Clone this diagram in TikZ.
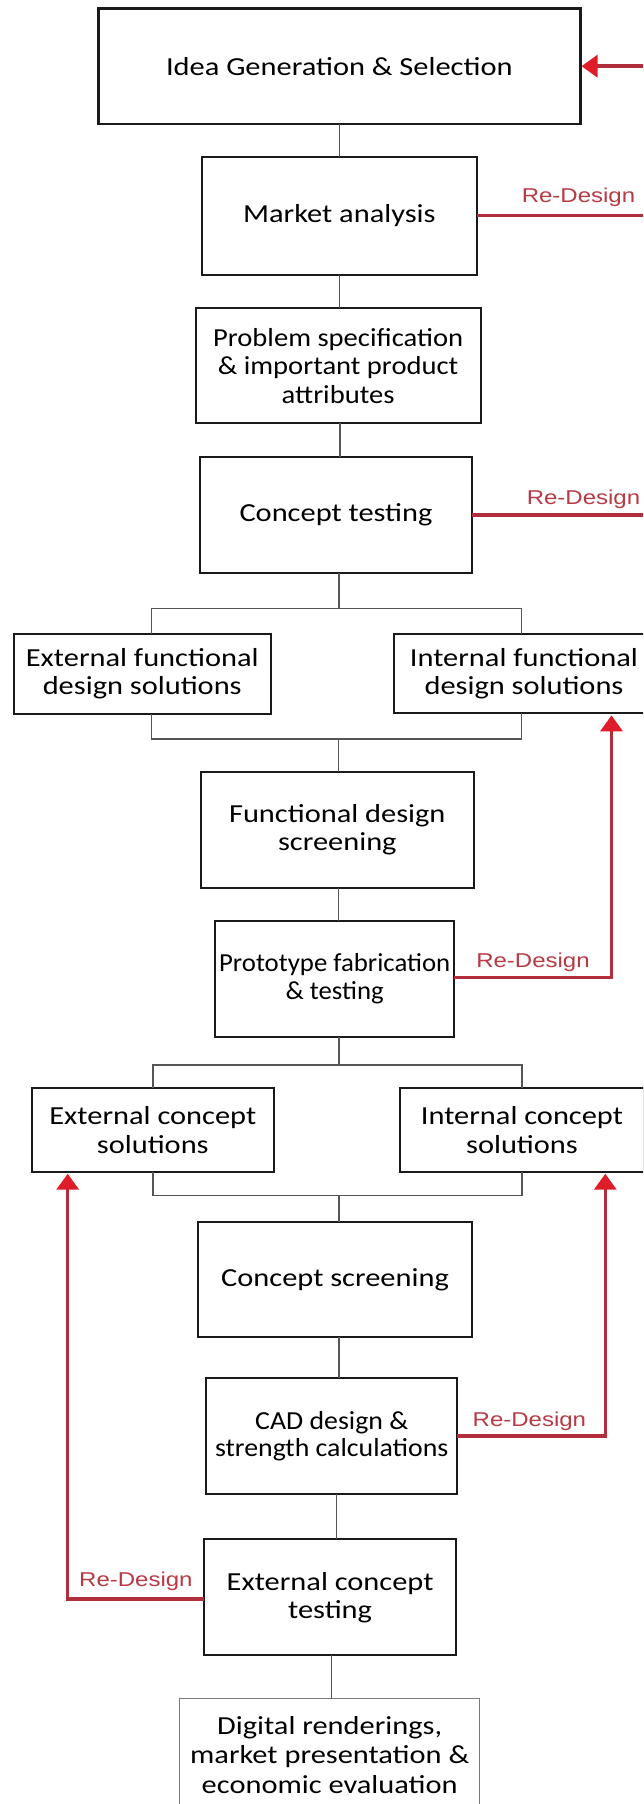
\documentclass[tikz,border=0pt]{standalone}
\usepackage{fontspec}
\usetikzlibrary{arrows.meta}

% box text: Carlito, slightly widened; a few boxes use narrower variants
\newfontfamily\bxA[FakeStretch=1.17]{Carlito}
\newfontfamily\bxB[FakeStretch=1.10]{Carlito}
\newfontfamily\bxC[FakeStretch=1.07]{Carlito}
\newfontfamily\bxD[FakeStretch=1.03]{Carlito}
\newfontfamily\lbfont[FakeStretch=1.2]{Liberation Sans}

\definecolor{boxline}{HTML}{1A1A1A}
\definecolor{linkgray}{HTML}{555555}
\definecolor{softgray}{HTML}{7A7A7A}
\definecolor{fbred}{HTML}{B32E3C}
\definecolor{fbtext}{HTML}{B83A45}
\definecolor{tipred}{HTML}{DE1C2A}

\begin{document}
\begin{tikzpicture}[x=1pt,y=-1pt,
  box/.style={draw=boxline, line width=2pt, align=center, inner sep=0pt,
    outer sep=0pt, text=black, font=\bxA\fontsize{26}{28}\selectfont},
  link/.style={draw=linkgray, line width=1.4pt},
  fbline/.style={draw=fbred, line width=3.5pt},
  fb/.style={fbline, shorten >=2pt,
    -{Triangle[length=16pt,width=22pt,color=tipred,fill=tipred]}},
  fblabel/.style={text=fbtext, inner sep=0pt,
    font=\lbfont\fontsize{20}{22}\selectfont}]

\useasboundingbox (0,0) rectangle (643,1804);
\fill[white] (0,0) rectangle (643,1804);
\clip (0,0) rectangle (643,1804);

% ---- process boxes ----
\node[box, line width=2.8pt, minimum width=481.8pt, minimum height=115.7pt] (idea) at (339.3,66.2) {Idea Generation \& Selection};
\node[box, minimum width=274.3pt, minimum height=118pt] (market) at (339.35,215.7) {Market analysis};
\node[box, font=\bxB\fontsize{26}{28.3}\selectfont, minimum width=285pt, minimum height=115pt] (spec) at (338.1,365.8) {Problem specification\\\& important product\\attributes};
\node[box, minimum width=272.7pt, minimum height=115.4pt] (ctest) at (336,515) {Concept testing};
\node[box, font=\bxA\fontsize{26}{27.7}\selectfont, minimum width=257.5pt, minimum height=80pt] (extf) at (142.25,674) {External functional\\design solutions};
\node[box, font=\bxA\fontsize{26}{27.7}\selectfont, minimum width=260pt, minimum height=79.3pt] (intf) at (524,673.7) {Internal functional\\design solutions};
\node[box, minimum width=272.6pt, minimum height=116pt] (fscreen) at (337.3,829.7) {Functional design\\screening};
\node[box, font=\bxD\fontsize{26}{28.3}\selectfont, minimum width=239.5pt, minimum height=116pt] (proto) at (334.65,978.7) {Prototype fabrication\\\& testing};
\node[box, font=\bxA\fontsize{26}{29}\selectfont, minimum width=242.4pt, minimum height=83.4pt] (extc) at (152.8,1130) {External concept\\solutions};
\node[box, font=\bxA\fontsize{26}{29}\selectfont, minimum width=244pt, minimum height=83.4pt] (intc) at (522,1130) {Internal concept\\solutions};
\node[box, minimum width=273.1pt, minimum height=115.6pt] (cscreen) at (335,1279.5) {Concept screening};
\node[box, font=\bxC\fontsize{26}{27.6}\selectfont, minimum width=250.9pt, minimum height=115.7pt] (cad) at (331.75,1436.2) {CAD design \&\\strength calculations};
\node[box, font=\bxA\fontsize{26}{28}\selectfont, minimum width=251.8pt, minimum height=115.7pt] (ectest) at (330.1,1597.2) {External concept\\testing};
\node[box, draw=softgray, line width=1.1pt, font=\bxA\fontsize{26}{29.7}\selectfont, minimum width=300.2pt, minimum height=113pt] (digital) at (329.7,1755) {Digital renderings,\\market presentation \&\\economic evaluation};

% ---- bus junctions ----
\coordinate (b1l) at (151.7,608.3);
\coordinate (b1r) at (521.2,608.3);
\coordinate (j1)  at (339,608.3);
\coordinate (b2l) at (151.7,739);
\coordinate (b2r) at (521.2,739);
\coordinate (j2)  at (338.3,739);
\coordinate (b3l) at (153,1065);
\coordinate (b3r) at (522,1065);
\coordinate (j3)  at (339,1065);
\coordinate (b4l) at (153,1195.7);
\coordinate (b4r) at (522,1195.7);
\coordinate (j4)  at (339,1195.7);

% ---- main flow ----
\draw[link] (idea.south) -- (idea.south |- market.north);
\draw[link] (market.south) -- (market.south |- spec.north);
\draw[link] (340,0 |- spec.south) -- (340,0 |- ctest.north);
\draw[link] (j1 |- ctest.south) -- (j1);
\draw[link] (b1l |- extf.north) -- (b1l) -- (b1r) -- (b1r |- intf.north);
\draw[link] (b2l |- extf.south) -- (b2l) -- (b2r) -- (b2r |- intf.south);
\draw[link] (j2) -- (j2 |- fscreen.north);
\draw[link] (j2 |- fscreen.south) -- (j2 |- proto.north);
\draw[link] (j3 |- proto.south) -- (j3);
\draw[link] (b3l |- extc.north) -- (b3l) -- (b3r) -- (b3r |- intc.north);
\draw[link] (b4l |- extc.south) -- (b4l) -- (b4r) -- (b4r |- intc.south);
\draw[link] (j4) -- (j4 |- cscreen.north);
\draw[link] (j4 |- cscreen.south) -- (j4 |- cad.north);
\draw[link] (336.3,0 |- cad.south) -- (336.3,0 |- ectest.north);
\draw[link] (331.3,0 |- ectest.south) -- (331.3,0 |- digital.north);

% ---- re-design loops ----
\coordinate (rail) at (665,215.7);
\draw[fb, shorten >=1.3pt] (market.east) -- (rail) -- (rail |- idea.east) -- (idea.east);
\draw[fbline] (ctest.east) -- (rail |- ctest.east);
\node[fblabel] (rd1) at (578.5,197.3) {Re-Design};
\node[fblabel] (rd2) at (583.5,499) {Re-Design};

\coordinate (r1) at (611.5,977.3);
\draw[fb] (proto.east |- r1) -- (r1) -- (r1 |- intf.south);
\node[fblabel] (rd3) at (533,962.7) {Re-Design};

\coordinate (r2) at (605.3,1436.2);
\draw[fb] (cad.east) -- (r2) -- (r2 |- intc.south);
\node[fblabel] (rd4) at (529.4,1421.7) {Re-Design};

\coordinate (r3) at (67.7,1599);
\draw[fb] (ectest.west |- r3) -- (r3) -- (r3 |- extc.south);
\node[fblabel] (rd5) at (135.9,1581.7) {Re-Design};

\end{tikzpicture}
\end{document}
